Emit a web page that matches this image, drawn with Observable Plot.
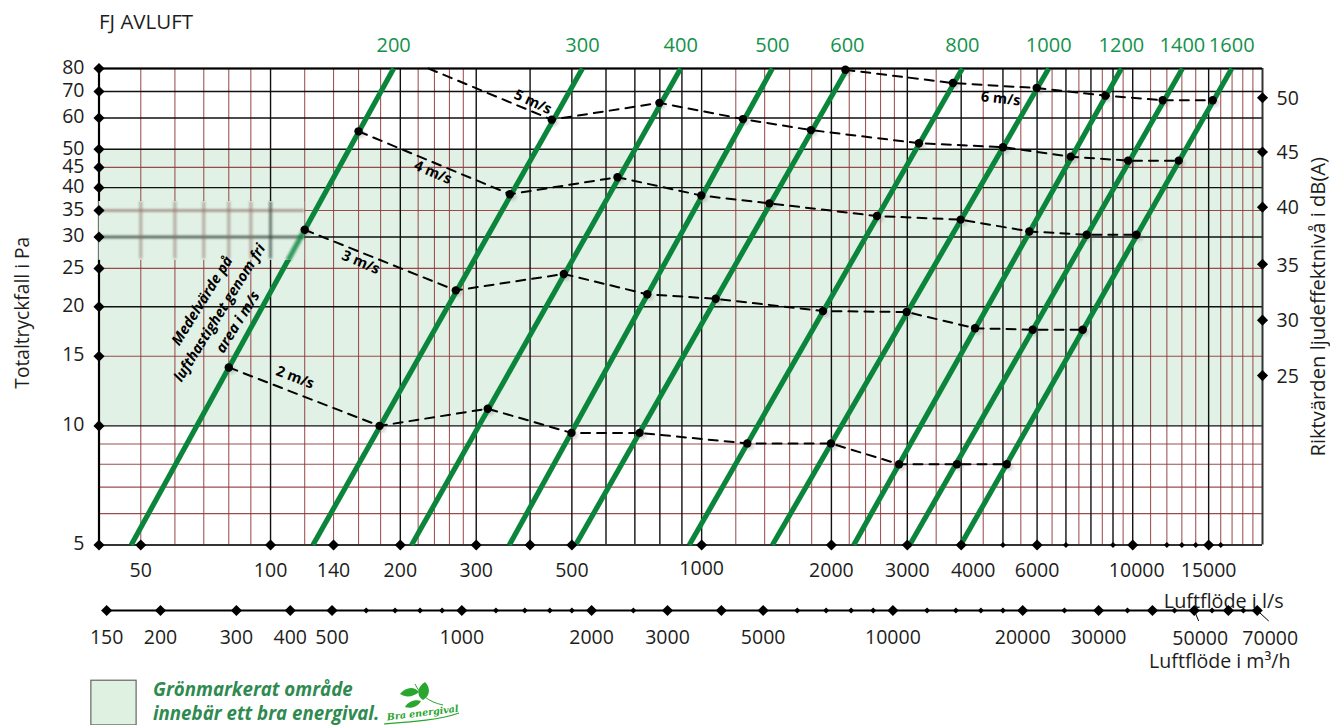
<!DOCTYPE html>
<html lang="sv">
<head>
<meta charset="utf-8">
<title>FJ AVLUFT</title>
<style>
  html, body { margin: 0; padding: 0; background: #fff; overflow: hidden; }
</style>
<script src="https://cdn.jsdelivr.net/npm/d3@7"></script>
<script src="https://cdn.jsdelivr.net/npm/@observablehq/plot@0.6"></script>
</head>
<body>
<div id="chart"></div>
<script>
// ---- Values ----------------------------------------------------------------
const blackGridX = [100,200,300,400,500,600,700,800,900,1000,2000,3000,4000,5000,6000,7000,8000,9000,10000,15000];
const redGridX = [50,60,70,80,90,120,140,160,180,220,240,260,280,1200,1400,1600,1800,2200,2400,2600,2800,3500,4500,5500,6500,7500,8500,9500,11000,12000,13000,14000,16000,17000,18000,19000];
const blackGridY = [5,10,20,30,40,50,60,70,80];
const redGridY = [6,7,8,9,15,25,35,45];
const greenZone = [10, 50];

const pressureTicks = [5,10,15,20,25,30,35,40,45,50,60,70,80];
const levelTicks = [25,30,35,40,45,50];
const levelTickPa = [13.4,18.5,25.6,35.7,49.2,67.5];

const flowBigTicks = [50,100,140,200,300,400,500,1000,2000,3000,4000,6000,10000,15000];
const flowSmallTicks = [5000,7000,9000,12000,13000,14000,16000];
const flowLabels = [50,100,140,200,300,500,2000,3000,6000,15000];

const m3hBigTicks = [150,200,300,400,500,1000,2000,3000,4000,5000,10000,20000,30000,40000,50000,60000,70000];
const m3hSmallTicks = [600,700,800,900,1200,1400,1600,1800,2500,6000,7000,8000,9000,12000,14000,16000,18000,25000,35000,45000,55000,65000];
const m3hLabels = [150,200,300,400,500,1000,2000,3000,5000,10000,20000,30000];

const sizes =      [200,300,400,500,600,800,1000,1200,1400,1600];
const flowAt5Pa =  [47.5,125.4,212.4,358,510,936,1459,2253,3038,3989];
const flowAt80Pa = [193,529,894,1459,2178,4026,6384,9414,13040,16970];

const speed2Flow = [80,179,319,499,718,1276,1995,2871,3911,5102];
const speed2Pa =   [14.05,10,11.05,9.6,9.6,9.03,9.03,8,8,8];
const speed3Flow = [120,269,479,748,1078,1912,2989,4308,5860,7656];
const speed3Pa =   [31.3,22,24.2,21.5,20.95,19.5,19.4,17.65,17.5,17.5];
const speed4Flow = [160,359,638,998,1436,2551,3989,5756,7821,10200];
const speed4Pa =   [55.5,38.5,42.5,38.2,36.5,33.9,33.2,31,30.4,30.4];
const speed5Flow = [449,798,1247,1793,3192,5001,7180,9752,12785];
const speed5Pa =   [59.4,65.5,59.6,55.9,51.8,50.6,47.9,46.8,46.8];
const speed6Flow = [2155,3828,5987,8642,11735,15330];
const speed6Pa =   [79.4,73.5,71.4,68.3,66.5,66.5];
const speed5EntryFlow = 232.6, speed5EntryPa = 80;

const speedLabels = ["2 m/s","3 m/s","4 m/s","5 m/s","6 m/s"];
const speedLabelFlow = [114,162,238,406,4940];
const speedLabelPa = [13.25,25.9,43.7,65.8,67.1];
const speedLabelAngle = [21,23,23,25,6];

const noteLines = ["Medelvärde på","lufthastighet genom fri","area i m/s"];
const noteFlow = [69.4,76.2,84];
const notePa = [20.7,19.3,18.3];

// ---- Tables ----------------------------------------------------------------
const sizeLines = sizes.map((s,i) => ({size:String(s), lo:flowAt5Pa[i], hi:flowAt80Pa[i]}));
const zip = (f,p) => f.map((q,i) => ({q, p:p[i]}));
const speedPoints = [
  ...zip(speed2Flow,speed2Pa).map(d => ({...d,s:2})),
  ...zip(speed3Flow,speed3Pa).map(d => ({...d,s:3})),
  ...zip(speed4Flow,speed4Pa).map(d => ({...d,s:4})),
  ...zip(speed5Flow,speed5Pa).map(d => ({...d,s:5})),
  ...zip(speed6Flow,speed6Pa).map(d => ({...d,s:6}))
];
const speedPaths = [{q:speed5EntryFlow,p:speed5EntryPa,s:5}, ...speedPoints];

// ---- Styles ----------------------------------------------------------------
const INK = "#1d1d1b", GRID = "#111", RED = "#8f3a3a", GREEN = "#0b853b",
      GREEN_TXT = "#13924b", ZONE = "#e1f1e5", LEGEND_TXT = "#2f8a50";
const FONT = "Open Sans";
const blur = px => (i,s,v,d,c,next) => { const g = next(i,s,v,d,c); g.style.filter = `blur(${px}px)`; return g; };
const patch = {x1:40, x2:120, y1:26.2, y2:36.9};
const TICK = 19.5;

const big = {symbol:"diamond2", r:5, fill:"#000"};
const small = {symbol:"diamond2", r:2.7, fill:"#000"};
const M3 = d => d/3.6;

const chart = Plot.plot({
  width:1330, height:725,
  marginLeft:98.5, marginRight:68, marginTop:68, marginBottom:180.5,
  style:{fontFamily:FONT, background:"#fff", color:INK, maxWidth:"none", display:"block"},
  x:{type:"log", domain:[40,20000], range:[98.5,1262], axis:null},
  y:{type:"log", domain:[5,80], range:[544.5,68], axis:null},
  marks:[
    // green zone and grid
    Plot.rect([greenZone], {x1:40, x2:20000, y1:d=>d[0], y2:d=>d[1], fill:ZONE}),
    Plot.ruleX(redGridX, {stroke:RED, strokeWidth:1.1, strokeOpacity:.85}),
    Plot.ruleY(redGridY, {stroke:RED, strokeWidth:1.1, strokeOpacity:.9}),
    Plot.ruleX(blackGridX, {stroke:GRID, strokeWidth:1.4}),
    Plot.ruleY(blackGridY, {stroke:GRID, strokeWidth:1.4}),
    Plot.ruleX([40], {stroke:"#000", strokeWidth:2.2}),
    Plot.ruleX([20000], {stroke:"#333", strokeWidth:2}),
    Plot.ruleY([80], {stroke:"#000", strokeWidth:2.2}),
    Plot.ruleY([5], {stroke:"#333", strokeWidth:2.2}),

    // soft shadows under the speed points
    Plot.dot(speedPoints, {x:"q", y:"p", dx:2.5, dy:2.5, r:4, fill:"#777", fillOpacity:.3, render:blur(1.5)}),

    // duct size lines
    Plot.link(sizeLines, {x1:"lo", y1:5, x2:"hi", y2:80, stroke:GREEN, strokeWidth:5.2}),
    Plot.text(sizeLines, {x:"hi", y:80, dy:-23, text:"size", fill:GREEN_TXT, fontSize:20}),

    // blurred patch of the scan
    Plot.rect([patch], {x1:"x1", x2:"x2", y1:"y1", y2:"y2", fill:ZONE}),
    Plot.ruleY([35], {x1:40, x2:120, stroke:"#8d7068", strokeWidth:2.6, strokeOpacity:.75, render:blur(1)}),
    Plot.ruleY([30], {x1:40, x2:120, stroke:"#33403a", strokeWidth:2.6, strokeOpacity:.85, render:blur(1)}),
    Plot.ruleX([50,60,70,80,90], {y1:26.4, y2:36.8, stroke:"#8d7068", strokeWidth:3.2, strokeOpacity:.5, render:blur(1)}),
    Plot.ruleX([100], {y1:26.4, y2:36.8, stroke:"#33403a", strokeWidth:3, strokeOpacity:.65, render:blur(1)}),
    Plot.link([{a:120, b:31.3, c:109.8, d:26.2}], {x1:"a", y1:"b", x2:"c", y2:"d", stroke:GREEN, strokeWidth:5.2, strokeOpacity:.8, render:blur(1)}),

    // air speed curves
    Plot.line(speedPaths, {x:"q", y:"p", z:"s", stroke:"#000", strokeWidth:2, strokeDasharray:"9 7", curve:"linear"}),
    Plot.dot(speedPoints, {x:"q", y:"p", r:4.2, fill:"#000"}),
    Plot.text(speedLabels.map((t,i)=>i), {x:i=>speedLabelFlow[i], y:i=>speedLabelPa[i], text:i=>speedLabels[i],
      rotate:i=>speedLabelAngle[i], fontSize:14.5, fontWeight:700, fill:"#000"}),
    Plot.text(noteLines.map((t,i)=>i), {x:i=>noteFlow[i], y:i=>notePa[i], text:i=>noteLines[i],
      rotate:-58, fontSize:14.5, fontWeight:700, fontStyle:"italic", fill:"#000"}),

    // left axis
    Plot.dot(pressureTicks, {x:40, y:d=>d, ...big}),
    Plot.text(pressureTicks, {x:40, y:d=>d, dx:-14.5, dy:-1, text:d=>String(d), textAnchor:"end", fontSize:TICK, fill:INK}),

    // right axis
    Plot.dot(levelTickPa, {x:20000, y:d=>d, ...big}),
    Plot.text(levelTicks.map((t,i)=>i), {x:20000, y:i=>levelTickPa[i], dx:14, dy:1, text:i=>String(levelTicks[i]), textAnchor:"start", fontSize:TICK, fill:INK}),

    // bottom axis, l/s
    Plot.dot(flowBigTicks, {x:d=>d, y:5, ...big}),
    Plot.dot(flowSmallTicks, {x:d=>d, y:5, ...small}),
    Plot.text(flowLabels, {x:d=>d, y:5, dy:25.5, text:d=>String(d), fontSize:TICK, fill:INK}),
    Plot.text([1000], {x:d=>d, y:5, dy:24, text:d=>String(d), fontSize:TICK, fill:INK}),
    Plot.text([4000], {x:d=>d, y:5, dy:25.5, dx:12, text:d=>String(d), fontSize:TICK, fill:INK}),
    Plot.text([10000], {x:d=>d, y:5, dy:25.5, dx:4, text:d=>String(d), fontSize:TICK, fill:INK}),
    Plot.text(["Luftflöde i l/s"], {x:16260, y:5, dy:56.5, text:d=>d, fontSize:19.8, fill:INK}),

    // second axis, m3/h
    Plot.ruleY([5], {x1:M3(150), x2:M3(70000), dy:65.5, stroke:"#000", strokeWidth:2}),
    Plot.dot(m3hBigTicks, {x:M3, y:5, dy:65.5, ...big}),
    Plot.dot(m3hSmallTicks, {x:M3, y:5, dy:65.5, ...small}),
    Plot.link([{a:M3(50000), b:14225}, {a:M3(70000), b:20680}], {x1:"a", x2:"b", y1:3.416, y2:3.212, stroke:"#000", strokeWidth:1}),
    Plot.text(m3hLabels, {x:M3, y:5, dy:92.5, text:d=>String(d), fontSize:TICK, fill:INK}),
    Plot.text([50000], {x:M3, y:5, dy:93.5, dx:6, text:d=>String(d), fontSize:TICK, fill:INK}),
    Plot.text([70000], {x:M3, y:5, dy:93.5, dx:13, text:d=>String(d), fontSize:TICK, fill:INK}),
    Plot.text(["Luftflöde i m³/h"], {x:15920, y:5, dy:116.5, text:d=>d, fontSize:19.6, fill:INK}),

    // titles
    Plot.text(["FJ AVLUFT"], {frameAnchor:"top-left", dy:-54, dx:0, text:d=>d, fontSize:20.5, fill:INK}),
    Plot.text(["Totaltryckfall i Pa"], {frameAnchor:"left", textAnchor:"middle", dx:-76.5, dy:6, rotate:-90, text:d=>d, fontSize:19.2, fill:INK}),
    Plot.text(["Riktvärden ljudeffektnivå i dB(A)"], {frameAnchor:"right", textAnchor:"middle", dx:56, dy:0, rotate:-90, text:d=>d, fontSize:20.2, fill:INK}),

    // legend
    Plot.rect([{a:38.4, b:48.9, c:2.27, d:1.75}], {x1:"a", x2:"b", y1:"c", y2:"d", fill:"#dff1e0", stroke:"#666", strokeWidth:1.2}),
    Plot.text(["Grönmarkerat område"], {frameAnchor:"bottom-left", dx:54, dy:145.5, lineAnchor:"middle", text:d=>d, fontSize:18.7, fontWeight:700, fontStyle:"italic", fill:LEGEND_TXT}),
    Plot.text(["innebär ett bra energival."], {frameAnchor:"bottom-left", dx:54, dy:169.5, lineAnchor:"middle", text:d=>d, fontSize:18.7, fontWeight:700, fontStyle:"italic", fill:LEGEND_TXT})
  ]
});

// "Bra energival" badge next to the legend
const badge = d3.select(chart).append("g").attr("fill","#2aa52e");
badge.append("path").attr("d","M400 694 C406 687 414 686 419 692 C413 697 406 698 400 694Z");
badge.append("path").attr("d","M423 700 C416 696 417 687 425 682 C431 688 430 696 423 700Z");
badge.append("path").attr("d","M405 707 C408 701 416 699 421 701 C418 707 411 709 405 707Z");
badge.append("path").attr("d","M415 684 C420 694 428 702 443 705").attr("fill","none").attr("stroke","#2aa52e").attr("stroke-width",1);
badge.append("path").attr("d","M384 724 C410 722 440 720 459 713").attr("fill","none").attr("stroke","#2aa52e").attr("stroke-width",1.2);
badge.append("text").attr("transform","translate(423 716) rotate(-7)").attr("text-anchor","middle")
  .attr("font-family","DejaVu Serif").attr("font-style","italic").attr("font-weight",700).attr("font-size",9.5).text("Bra energival");

document.getElementById("chart").append(chart);
</script>
</body>
</html>
